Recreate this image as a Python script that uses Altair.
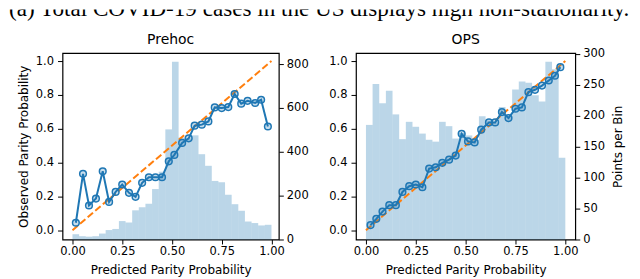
import altair as alt
import pandas as pd

caption = "(a) Total COVID-19 cases in the US displays high non-stationarity."
titles = ["Prehoc", "OPS"]
x_title = "Predicted Parity Probability"
y_left_title = "Observed Parity Probability"
y_right_title = "Points per Bin"

n_bins = 30
bin_lo = [i / n_bins for i in range(n_bins)]
bin_hi = [(i + 1) / n_bins for i in range(n_bins)]

prehoc_counts = [24, 15, 13, 15, 27, 43, 48, 84, 77, 133, 147, 163, 230, 309, 502,
                 810, 465, 460, 475, 389, 336, 267, 261, 204, 161, 131, 82, 75, 64, 67]
ops_counts = [185, 251, 220, 240, 202, 162, 190, 182, 171, 161, 158, 190, 183, 163, 172,
              168, 161, 199, 192, 189, 214, 199, 242, 255, 253, 233, 223, 287, 275, 132]

prehoc_x = [0.017, 0.053, 0.083, 0.118, 0.152, 0.184, 0.217, 0.250, 0.284, 0.317,
            0.350, 0.384, 0.417, 0.450, 0.484, 0.512, 0.551, 0.584, 0.614, 0.650,
            0.683, 0.715, 0.750, 0.783, 0.815, 0.848, 0.880, 0.918, 0.948, 0.982]
prehoc_y = [0.044, 0.333, 0.146, 0.187, 0.348, 0.167, 0.226, 0.270, 0.221, 0.197,
            0.280, 0.313, 0.313, 0.313, 0.407, 0.445, 0.516, 0.543, 0.618, 0.624,
            0.643, 0.726, 0.722, 0.728, 0.805, 0.748, 0.765, 0.752, 0.771, 0.613]

ops_x = [0.023, 0.052, 0.083, 0.117, 0.150, 0.183, 0.217, 0.250, 0.283, 0.317,
         0.350, 0.383, 0.417, 0.450, 0.480, 0.512, 0.545, 0.578, 0.617, 0.648,
         0.682, 0.715, 0.750, 0.782, 0.815, 0.848, 0.883, 0.917, 0.948, 0.975]
ops_y = [0.030, 0.067, 0.110, 0.148, 0.148, 0.226, 0.260, 0.270, 0.254, 0.364,
         0.372, 0.398, 0.417, 0.441, 0.570, 0.525, 0.519, 0.594, 0.637, 0.637,
         0.698, 0.663, 0.718, 0.726, 0.816, 0.830, 0.855, 0.885, 0.913, 0.964]

diag = [0.0, 1.0]
x_ticks = [0.0, 0.25, 0.5, 0.75, 1.0]
y_ticks = [0.0, 0.2, 0.4, 0.6, 0.8, 1.0]
prehoc_count_ticks = [0, 200, 400, 600, 800]
ops_count_ticks = [0, 50, 100, 150, 200, 250, 300]

FONT = "DejaVu Sans"
BLUE = "#1f77b4"
ORANGE = "#ff7f0e"


def panel(title, counts, px, py, xdom, cmax, cticks, width, show_left, show_right,
          title_offset):
    hist_df = pd.DataFrame({"lo": bin_lo, "hi": bin_hi, "count": counts,
                            "zero": [0] * n_bins})
    pts_df = pd.DataFrame({"x": px, "y": py})
    diag_df = pd.DataFrame({"x": diag, "y": diag})

    xs = alt.Scale(domain=xdom, nice=False, zero=False)
    ys = alt.Scale(domain=[-0.055, 1.047], nice=False, zero=False)
    xaxis = alt.Axis(values=x_ticks, format=".2f", title=x_title,
                     labelPadding=2, titlePadding=7)
    yaxis_kw = dict(values=y_ticks, format=".1f", orient="left",
                    labelPadding=4, tickSize=5)
    if show_left:
        yaxis = alt.Axis(title=y_left_title, titlePadding=5, **yaxis_kw)
    else:
        yaxis = alt.Axis(title=None, **yaxis_kw)
    caxis_kw = dict(values=cticks, orient="right", labelPadding=3)
    if show_right:
        caxis = alt.Axis(title=y_right_title, titleAngle=270, titleBaseline="top",
                         titlePadding=8, **caxis_kw)
    else:
        caxis = alt.Axis(title=None, **caxis_kw)

    hist = alt.Chart(hist_df).mark_rect(color=BLUE, opacity=0.3).encode(
        x=alt.X("lo:Q", scale=xs, axis=xaxis),
        x2="hi",
        y=alt.Y("count:Q", scale=alt.Scale(domain=[0, cmax], nice=False), axis=caxis),
        y2="zero",
    )
    dline = alt.Chart(diag_df).mark_line(color=ORANGE, strokeWidth=2,
                                         strokeDash=[7, 3]).encode(
        x=alt.X("x:Q", scale=xs, axis=xaxis),
        y=alt.Y("y:Q", scale=ys, axis=yaxis),
    )
    cline = alt.Chart(pts_df).mark_line(color=BLUE, strokeWidth=2).encode(
        x=alt.X("x:Q", scale=xs, axis=xaxis),
        y=alt.Y("y:Q", scale=ys, axis=yaxis),
    )
    cpts = alt.Chart(pts_df).mark_point(shape="circle", filled=True, size=45,
                                        fill=BLUE, fillOpacity=0.25,
                                        stroke=BLUE, strokeWidth=1.5, opacity=1).encode(
        x=alt.X("x:Q", scale=xs, axis=xaxis),
        y=alt.Y("y:Q", scale=ys, axis=yaxis),
    )
    prob = alt.layer(dline, cline, cpts)
    return alt.layer(hist, prob).resolve_scale(y="independent").properties(
        width=width, height=187,
        title=alt.TitleParams(title, font=FONT, fontSize=14, fontWeight="normal",
                              color="black", baseline="bottom", offset=title_offset),
        view=alt.ViewBackground(stroke="black", strokeWidth=1.2),
    )


left = panel(titles[0], prehoc_counts, prehoc_x, prehoc_y, [-0.05, 1.037], 850,
             prehoc_count_ticks, 217, True, False, -7.8)
right = panel(titles[1], ops_counts, ops_x, ops_y, [-0.05, 1.05], 301,
              ops_count_ticks, 220, False, True, -13.2)

inner = alt.hconcat(left, right, spacing=77.4, bounds="flush")

dummy = alt.Chart(pd.DataFrame({"a": [0]})).mark_rule(opacity=0, strokeWidth=0).encode(
    x=alt.value(0), x2=alt.value(1), y=alt.value(0.5)).properties(
    width=1, height=1, view=alt.ViewBackground(stroke="transparent"))

row = alt.hconcat(dummy, inner, spacing=5.7)

cap = alt.Chart(pd.DataFrame({"t": [caption]})).mark_text(
    clip=True, align="left", baseline="alphabetic", font="Liberation Serif",
    fontSize=23.2, color="black").encode(
    x=alt.value(0), y=alt.value(7), text="t:N").properties(
    width=624, height=13, view=alt.ViewBackground(stroke="transparent"))

chart = alt.vconcat(cap, row, spacing=8.8).properties(
    padding=0, background="white"
).configure_axis(
    labelFont=FONT, titleFont=FONT, labelFontSize=11.5, titleFontSize=12,
    labelColor="black", titleColor="black", tickColor="black", tickWidth=1,
    tickSize=4.5, domain=False, grid=False, titleFontWeight="normal",
    labelFlush=False, labelOverlap=False,
)

chart.save("out.html", embed_options={"renderer": "svg", "actions": False})
